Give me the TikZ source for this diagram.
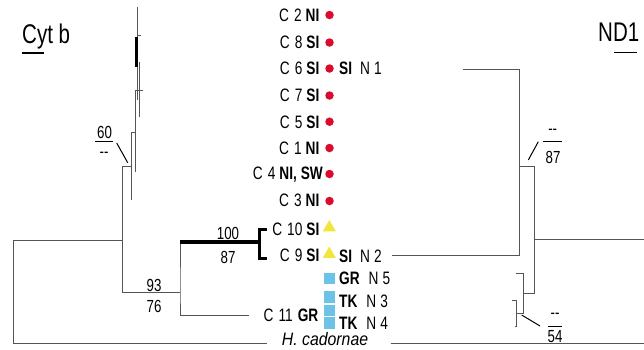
\documentclass[tikz,border=0pt]{standalone}
\usepackage{fontspec}
\setmainfont{Liberation Sans}[FakeStretch=0.76]
\newfontfamily\hcfont{Liberation Sans}[FakeStretch=0.88]
\usepackage{tikz}
\usetikzlibrary{shapes.geometric,calc}
\definecolor{branchgray}{HTML}{555555}
\definecolor{dotred}{HTML}{DC0A2D}
\definecolor{triyellow}{HTML}{F2E63A}
\definecolor{sqblue}{HTML}{6CC3E6}

\begin{document}
\begin{tikzpicture}[x=1pt, y=-1pt,
  lab/.style={font=\fontsize{18}{18}\selectfont, inner sep=0pt, text height=12.9pt, text depth=0pt},
  boot/.style={font=\fontsize{17.5}{17.5}\selectfont, inner sep=0pt},
  title/.style={font=\fontsize{27}{27}\selectfont, inner sep=0pt, anchor=base west},
  dot/.style={circle, fill=dotred, inner sep=0pt, minimum size=8.5pt},
  tri/.style={regular polygon, regular polygon sides=3, fill=triyellow, inner sep=0pt, minimum size=15pt},
  sq/.style={rectangle, fill=sqblue, inner sep=0pt, minimum size=11.5pt},
  branch/.style={draw=branchgray, line width=1pt},
  thickbranch/.style={draw=black, line width=4pt},
  bracket/.style={draw=black, line width=3pt}
]
  \useasboundingbox (0,0) rectangle (644,349);
  % titles
  \node[title] (cytb) at (22,43) {Cyt b};
  \node[title] (nd1) at (598,41.7) {ND1};
  \draw[line width=1.3pt] (22,53) -- (44,53);
  \draw[line width=1.3pt] (614.3,52.3) -- (637.3,52.3);
  % Cyt b haplotypes
  \node[lab, anchor=east] (c2) at (319.5,15) {C\hspace{5pt}2\hspace{4pt}\textbf{NI}};
  \node[lab, anchor=east] (c8) at (319.5,42.5) {C\hspace{5pt}8\hspace{4pt}\textbf{SI}};
  \node[lab, anchor=east] (c6) at (319.5,68.5) {C\hspace{5pt}6\hspace{4pt}\textbf{SI}};
  \node[lab, anchor=east] (c7) at (319.5,95.5) {C\hspace{5pt}7\hspace{4pt}\textbf{SI}};
  \node[lab, anchor=east] (c5) at (319.5,121.7) {C\hspace{5pt}5\hspace{4pt}\textbf{SI}};
  \node[lab, anchor=east] (c1) at (319.5,148) {C\hspace{5pt}1\hspace{4pt}\textbf{NI}};
  \node[lab, anchor=east] (c4) at (323,173.5) {C\hspace{5pt}4\hspace{4pt}\textbf{NI, SW}};
  \node[lab, anchor=east] (c3) at (319.5,200.5) {C\hspace{5pt}3\hspace{4pt}\textbf{NI}};
  \node[lab, anchor=east] (c10) at (319.5,229.3) {C\hspace{5pt}10\hspace{4pt}\textbf{SI}};
  \node[lab, anchor=east] (c9) at (319.5,255) {C\hspace{5pt}9\hspace{4pt}\textbf{SI}};
  \node[lab, anchor=east] (c11) at (318.5,315.5) {C\hspace{5pt}11\hspace{5pt}\textbf{GR}};
  % markers
  \node[dot] (m2) at (329.5,15) {};
  \node[dot] (m8) at (329.5,42.5) {};
  \node[dot] (m6) at (329.5,68.5) {};
  \node[dot] (m7) at (329.5,95.5) {};
  \node[dot] (m5) at (329.5,121.7) {};
  \node[dot] (m1) at (329.5,148) {};
  \node[dot] (m4) at (329.5,174) {};
  \node[dot] (m3) at (329.5,201) {};
  \node[tri] (m10) at (329.3,227.5) {};
  \node[tri] (m9) at (329.3,254) {};
  \node[sq] (s5) at (329.5,278.5) {};
  \node[sq] (s3) at (329.5,297) {};
  \node[sq] (s11) at (329.5,310.5) {};
  \node[sq] (s4) at (329.5,323) {};
  % ND1 haplotypes
  \node[lab, anchor=west] (n1) at (339,68.5) {\textbf{SI}\hspace{8pt}N\hspace{4pt}1};
  \node[lab, anchor=west] (n2) at (339,256) {\textbf{SI}\hspace{8pt}N\hspace{4pt}2};
  \node[lab, anchor=west] (n5) at (339,278.3) {\textbf{GR}\hspace{9pt}N\hspace{4pt}5};
  \node[lab, anchor=west] (n3) at (339,301.5) {\textbf{TK}\hspace{9pt}N\hspace{4pt}3};
  \node[lab, anchor=west] (n4) at (339,323.3) {\textbf{TK}\hspace{9pt}N\hspace{4pt}4};
  \node[lab, font=\hcfont\itshape\fontsize{18}{18}\selectfont] (hc) at (325,339.5) {H. cadornae};
  % Cyt b tree
  \coordinate (a0) at (13,240.7);
  \coordinate (a1) at (122.7,240.7);
  \coordinate (a1t) at (122.7,166);
  \coordinate (a2) at (180,292);
  \coordinate (a3) at (259,241.7);
  \coordinate (b10) at (266.5,229.3);
  \coordinate (b9) at (266.5,258.3);
  \coordinate (hcl) at (266.7,343.5);
  \coordinate (hcr) at (390.7,343.5);
  \draw[branch] (a1) -- (a0) |- (hcl);
  \draw[branch] (131.7,166) -- (a1t) -- (a1t |- a2) -- (a2);
  \draw[branch] (a2 |- a3) -- (a2) |- ([xshift=-15pt]c11.west);
  \draw[thickbranch] (a2 |- a3) -- (a3);
  \draw[bracket] (b10) -| (a3) |- (b9);
  \draw[branch] (137.7,7) -- (137.7,100);
  \draw[draw=black, line width=2.2pt] (136.5,37) -- (136.5,67);
  \draw[branch] (136.5,35) -- (140.5,35);
  \draw[branch] (139.3,62) -- (139.3,117);
  \draw[branch] (139.3,90) -- (143,90);
  \draw[branch] (141.5,90) -- (135.7,90) -- (135.7,172);
  \draw[branch] (135.7,132) -- (131.7,132) -- (131.7,200);
  % Cyt b support values
  \node[boot] (bs100) at (228,233) {100};
  \node[boot] (bs87) at (228,257.5) {87};
  \node[boot] (bs93) at (154,285.5) {93};
  \node[boot] (bs76) at (154,306) {76};
  \node[boot] (bs60) at (104.5,132) {60};
  \node[boot] (bs60b) at (104,155) {-{}-};
  \draw[line width=1pt] (95,141) -- (113,141);
  \draw[line width=1pt] (116.7,143) -- (127.7,162.7);
  % ND1 tree
  \coordinate (t1) at (462.7,69);
  \coordinate (t2) at (391.7,255);
  \coordinate (u1) at (519.3,166);
  \coordinate (u2) at (534.3,239.3);
  \coordinate (u3) at (523.3,293.3);
  \coordinate (u4) at (516.7,313.3);
  \coordinate (rootN) at (644,239.3);
  \draw[branch] (t1) -| (u1) |- (t2);
  \draw[branch] (u1) -- (u1 -| u2) |- (u3);
  \draw[branch] (u2) -- (rootN);
  \draw[branch] (516,273.3) -| (u3) |- (u4);
  \draw[branch] (511.7,300) -| (516.7,326) -- (515,326);
  \draw[branch] (hcr) -- (hcr -| rootN);
  % ND1 support values
  \node[boot] (nb87) at (553,157) {87};
  \node[boot] (nb87b) at (552.7,132) {-{}-};
  \node[boot] (nb54) at (555,337) {54};
  \node[boot] (nb54b) at (555,316) {-{}-};
  \draw[line width=1pt] (543.3,141.7) -- (561.7,141.7);
  \draw[line width=1pt] (548,326) -- (561.7,326);
  \draw[line width=1pt] (528.3,160) -- (538.3,141.7);
  \draw[line width=1pt] (521.7,315) -- (540,326);
\end{tikzpicture}
\end{document}
